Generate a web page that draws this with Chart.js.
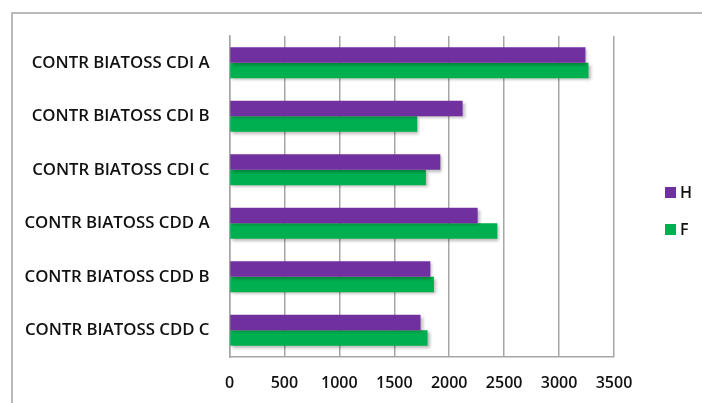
<!DOCTYPE html>
<html>
<head>
<meta charset="utf-8">
<script src="https://cdn.jsdelivr.net/npm/chart.js@4"></script>
<style>
  html, body { margin: 0; padding: 0; background: #fff; overflow: hidden; }
  #wrap { position: relative; width: 702px; height: 403px; }
  #frame { position: absolute; left: 11px; top: 12px; width: 800px; height: 500px;
           border-left: 2px solid #b9b9b9; border-top: 2px solid #b9b9b9; box-sizing: border-box; }
  canvas { position: absolute; left: 0; top: 0; }
</style>
</head>
<body>
<div id="wrap">
  <div id="frame"></div>
  <canvas id="c" width="702" height="403"></canvas>
</div>
<script>
const categories = [
  'CONTR BIATOSS CDI A',
  'CONTR BIATOSS CDI B',
  'CONTR BIATOSS CDI C',
  'CONTR BIATOSS CDD A',
  'CONTR BIATOSS CDD B',
  'CONTR BIATOSS CDD C'
];
const seriesNames = ['H', 'F'];
const valuesH = [3240, 2122, 1919, 2259, 1828, 1739];
const valuesF = [3268, 1709, 1788, 2438, 1861, 1803];
const axisMin = 0;
const axisMax = 3500;
const axisStep = 500;

const PURPLE = '#7030A0';
const GREEN = '#00B050';
const GRID = '#a6a6a6';
const FONT = "'Open Sans', 'DejaVu Sans', sans-serif";

// soft drop shadow under the bars
const barShadow = {
  id: 'barShadow',
  beforeDatasetsDraw(chart) {
    const ctx = chart.ctx;
    ctx.save();
    ctx.shadowColor = 'rgba(0,0,0,0.28)';
    ctx.shadowBlur = 3;
    ctx.shadowOffsetX = 2;
    ctx.shadowOffsetY = 2;
  },
  afterDatasetsDraw(chart) {
    chart.ctx.restore();
  }
};

// legend at the right, one square + name per dataset
const sideLegend = {
  id: 'sideLegend',
  afterDraw(chart) {
    const ctx = chart.ctx;
    const x = 665, y0 = 192.5, gap = 37, box = 11;
    ctx.save();
    ctx.font = '600 16px ' + FONT;
    ctx.textBaseline = 'middle';
    ctx.textAlign = 'left';
    chart.data.datasets.forEach((ds, i) => {
      const y = y0 + i * gap;
      ctx.fillStyle = ds.backgroundColor;
      ctx.fillRect(x, y - box / 2, box, box);
      ctx.fillStyle = '#111';
      ctx.fillText(ds.label, x + box + 4, y + 1);
    });
    ctx.restore();
  }
};

new Chart(document.getElementById('c'), {
  type: 'bar',
  data: {
    labels: categories,
    datasets: [
      { label: seriesNames[0], data: valuesH, backgroundColor: PURPLE },
      { label: seriesNames[1], data: valuesF, backgroundColor: GREEN }
    ]
  },
  options: {
    indexAxis: 'y',
    responsive: false,
    animation: false,
    devicePixelRatio: 1,
    categoryPercentage: 0.58,
    barPercentage: 1.0,
    layout: { padding: { left: 0, right: 88, top: 36, bottom: 0 } },
    plugins: {
      legend: { display: false },
      tooltip: { enabled: false }
    },
    scales: {
      x: {
        min: axisMin,
        max: axisMax,
        ticks: {
          stepSize: axisStep,
          color: '#111',
          font: { family: FONT, size: 16, weight: '600' },
          padding: 17,
          callback: (v) => String(v)
        },
        grid: { color: GRID, lineWidth: 1.5, drawTicks: false },
        border: { display: true, color: GRID, width: 1.5 },
        afterFit(scale) { scale.height = 403 - 357; }
      },
      y: {
        ticks: {
          color: '#111',
          font: { family: FONT, size: 16.8, weight: '600' },
          padding: 20
        },
        grid: { display: false, drawTicks: false },
        border: { display: true, color: GRID, width: 1.5 },
        afterFit(scale) { scale.width = 229.5; }
      }
    }
  },
  plugins: [barShadow, sideLegend]
});
</script>
</body>
</html>
